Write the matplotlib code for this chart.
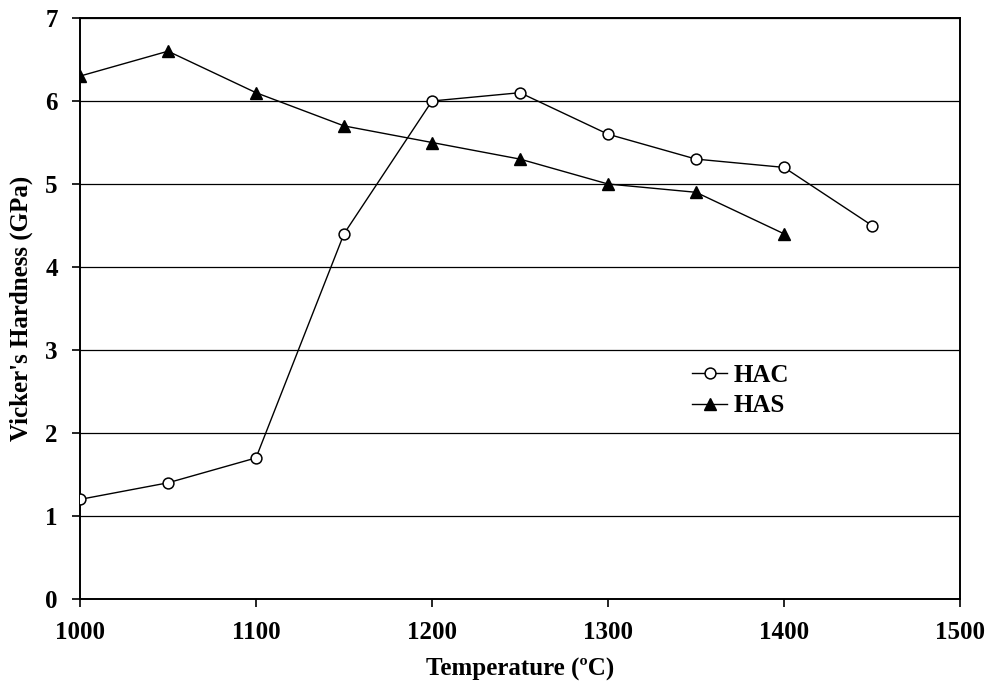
import matplotlib
matplotlib.use("Agg")
import matplotlib.pyplot as plt

temps_hac = [1000, 1050, 1100, 1150, 1200, 1250, 1300, 1350, 1400, 1450]
hac = [1.2, 1.4, 1.7, 4.4, 6.0, 6.1, 5.6, 5.3, 5.2, 4.5]
temps_has = [1000, 1050, 1100, 1150, 1200, 1250, 1300, 1350, 1400]
has = [6.3, 6.6, 6.1, 5.7, 5.5, 5.3, 5.0, 4.9, 4.4]
xticks = [1000, 1100, 1200, 1300, 1400, 1500]
yticks = [0, 1, 2, 3, 4, 5, 6, 7]

plt.rcParams['font.family'] = ['Liberation Serif', 'DejaVu Serif']
plt.rcParams['font.weight'] = 'bold'

FS = 18

fig = plt.figure(figsize=(9.89, 6.89), dpi=100)
ax = fig.add_axes([80/989, 1-599/689, 880/989, 581/689])

ax.plot(temps_hac, hac, color='black', lw=1.0, marker='o', ms=7.8,
        mfc='white', mec='black', mew=1.1, label='HAC', zorder=3)
ax.plot(temps_has, has, color='black', lw=1.0, marker='^', ms=9,
        mfc='black', mec='black', label='HAS', zorder=3)

ax.set_xlim(1000, 1500)
ax.set_ylim(0, 7)
ax.set_xticks(xticks)
ax.set_yticks(yticks)
ax.yaxis.grid(True, color='black', lw=0.9)
ax.set_axisbelow(True)
for s in ax.spines.values():
    s.set_linewidth(1.4)
ax.tick_params(axis='both', direction='out', length=6, width=1.2,
               labelsize=FS)
ax.tick_params(axis='x', pad=10)
ax.tick_params(axis='y', pad=10)
for lab in ax.get_xticklabels() + ax.get_yticklabels():
    lab.set_fontweight('bold')

ax.set_xlabel('Temperature (ºC)', fontsize=FS, fontweight='bold', labelpad=10)
ax.set_ylabel("Vicker's Hardness (GPa)", fontsize=FS, fontweight='bold', labelpad=9)

leg = ax.legend(loc='upper left', bbox_to_anchor=(612/880, (599-364)/581),
                frameon=False, fontsize=FS, handlelength=1.4,
                handletextpad=0.25, labelspacing=0.3, borderaxespad=0,
                borderpad=0)
for t in leg.get_texts():
    t.set_fontweight('bold')

fig.savefig('out.png', dpi=100)
